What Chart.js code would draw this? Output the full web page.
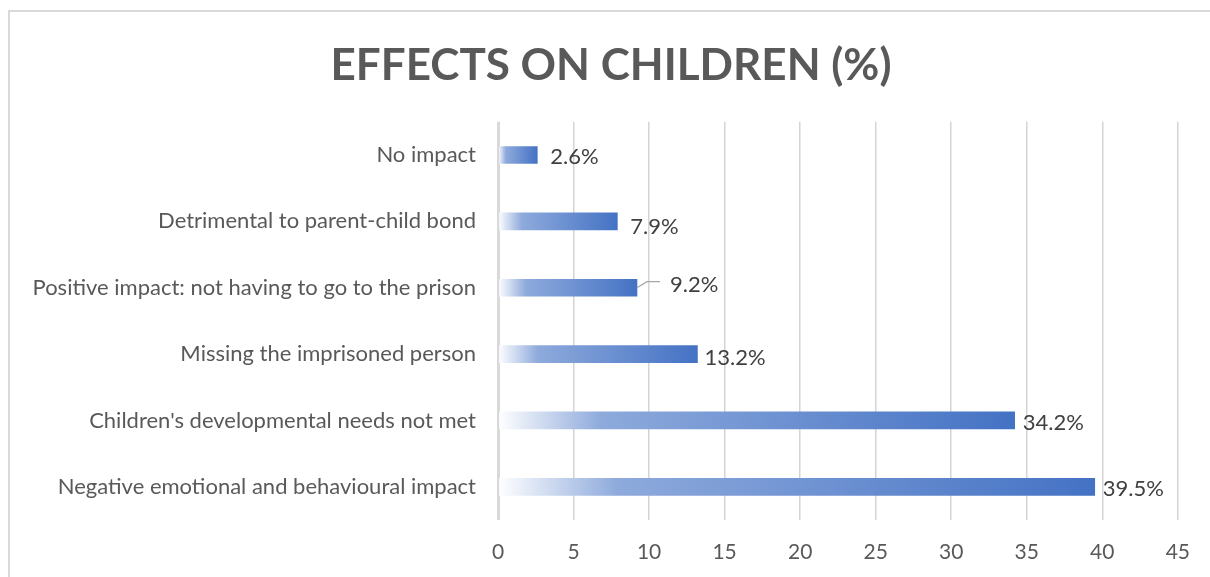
<!DOCTYPE html>
<html lang="en">
<head>
  <meta charset="UTF-8">
  <title>Effects on children</title>
  <style>
    html, body { margin: 0; padding: 0; background: #fff; overflow: hidden; }
    #wrap { position: relative; width: 1210px; height: 577px; overflow: hidden; }
    #frame { position: absolute; left: 8px; top: 10px; width: 1220px; height: 600px; border: 2px solid #d9d9d9; box-sizing: border-box; }
    #chart { position: absolute; left: 0; top: 0; }
  </style>
</head>
<body>
  <div id="wrap">
    <div id="frame"></div>
    <canvas id="chart" width="1210" height="577"></canvas>
  </div>
  <script src="https://cdn.jsdelivr.net/npm/chart.js"></script>
  <script>
    // categories, top to bottom
    const categories = [
      'No impact',
      'Detrimental to parent-child bond',
      'Positive impact: not having to go to the prison',
      'Missing the imprisoned person',
      "Children's developmental needs not met",
      'Negative emotional and behavioural impact'
    ];
    const percentages = [2.6, 7.9, 9.2, 13.2, 34.2, 39.5];
    const xTicks = [0, 5, 10, 15, 20, 25, 30, 35, 40, 45];

    const FONT = 'Lato, "Open Sans", sans-serif';
    const GREY = '#595959';

    // white -> blue fade along each bar
    function barFill(ctx) {
      const chart = ctx.chart;
      const xs = chart.scales.x;
      if (!xs || !chart.chartArea) return '#4472c4';
      const x0 = xs.getPixelForValue(0);
      const x1 = xs.getPixelForValue(ctx.raw);
      const g = chart.ctx.createLinearGradient(x0, 0, x1, 0);
      g.addColorStop(0, '#ffffff');
      g.addColorStop(0.2, '#8eaadc');
      g.addColorStop(1, '#4472c4');
      return g;
    }

    // centre the title on the outer frame rather than on the plot
    const titleCentre = {
      id: 'titleCentre',
      afterLayout(chart) {
        if (chart.titleBlock) {
          chart.titleBlock.left = 0;
          chart.titleBlock.right = 1222;
        }
      }
    };

    // label nudges [dx, dy] per bar, and the leader line on the third one
    const labelNudge = [[13, 2], [13, 6], [33, -3], [7, 4], [8, 2], [8, 2]];

    const valueLabels = {
      id: 'valueLabels',
      afterDatasetsDraw(chart) {
        const c = chart.ctx;
        const meta = chart.getDatasetMeta(0);
        c.save();
        c.font = '22px ' + FONT;
        c.fillStyle = '#404040';
        c.textBaseline = 'middle';
        c.textAlign = 'left';
        meta.data.forEach((bar, i) => {
          const [dx, dy] = labelNudge[i];
          if (i === 2) {
            c.strokeStyle = '#a6a6a6';
            c.lineWidth = 1.3;
            c.beginPath();
            c.moveTo(bar.x, bar.y);
            c.lineTo(bar.x + 10, bar.y + dy - 3);
            c.lineTo(bar.x + dx - 10, bar.y + dy - 3);
            c.stroke();
          }
          c.fillText(percentages[i].toFixed(1) + '%', bar.x + dx, bar.y + dy);
        });
        c.restore();
      }
    };

    new Chart(document.getElementById('chart'), {
      type: 'bar',
      data: {
        labels: categories,
        datasets: [{
          data: percentages,
          backgroundColor: barFill,
          barThickness: 17,
          borderWidth: 0
        }]
      },
      options: {
        indexAxis: 'y',
        responsive: false,
        animation: false,
        layout: { padding: { left: 0, right: 29, top: 0, bottom: 0 } },
        plugins: {
          legend: { display: false },
          tooltip: { enabled: false },
          title: {
            display: true,
            text: 'EFFECTS ON CHILDREN (%)',
            color: GREY,
            font: { family: FONT, size: 44, weight: 'bold' },
            padding: { top: 39, bottom: 30 }
          }
        },
        scales: {
          x: {
            min: 0,
            max: 45,
            afterBuildTicks: s => { s.ticks = xTicks.map(v => ({ value: v })); },
            afterFit: s => { s.height = 57; },
            border: { display: false },
            grid: {
              drawTicks: false,
              color: ctx => ctx.tick && ctx.tick.value === 0 ? '#d9d9d9' : '#d4d4d4',
              lineWidth: ctx => ctx.tick && ctx.tick.value === 0 ? 3 : 1.5
            },
            ticks: {
              color: GREY,
              padding: 20,
              font: { family: FONT, size: 21 }
            }
          },
          y: {
            afterFit: s => { s.width = 498; },
            border: { display: false },
            grid: { display: false, drawTicks: false },
            ticks: {
              color: GREY,
              padding: 22,
              font: { family: FONT, size: 22 }
            }
          }
        }
      },
      plugins: [titleCentre, valueLabels]
    });
  </script>
</body>
</html>
